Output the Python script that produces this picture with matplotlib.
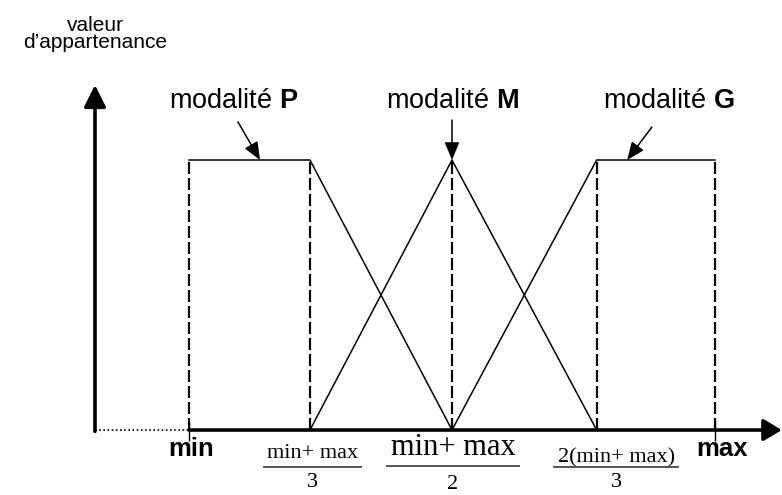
# coding: utf-8
import matplotlib.pyplot as plt

# breakpoints on the universe of discourse (min = 0, max = 1)
breakpoints = [0.0, 0.23, 0.5, 0.775, 1.0]

# membership functions
p_x = [0.0, 0.23, 0.5]
p_y = [1.0, 1.0, 0.0]
m_x = [0.23, 0.5, 0.775]
m_y = [0.0, 1.0, 0.0]
g_x = [0.5, 0.775, 1.0]
g_y = [0.0, 1.0, 1.0]

modalites = ["P", "M", "G"]
modalite_x = [0.084, 0.5, 0.9125]
arrow_from = [(0.093, 1.141), (0.5, 1.148), (0.880, 1.122)]
arrow_to = [(0.135, 1.0), (0.5, 1.0), (0.833, 1.0)]

frac_num = ["min+ max", "min+ max", "2(min+ max)"]
frac_den = ["3", "2", "3"]
frac_x = [0.235, 0.502, 0.812]

plt.rcParams["font.family"] = ["Liberation Sans", "DejaVu Sans"]
plt.rcParams["mathtext.fontset"] = "custom"
plt.rcParams["mathtext.rm"] = "Liberation Sans"
plt.rcParams["mathtext.bf"] = "Liberation Sans:bold"

fig = plt.figure(figsize=(7.82, 4.95), dpi=100)
ax = fig.add_axes([0, 0, 1, 1])
ax.set_xlim(-0.3593, 1.1274)
ax.set_ylim(-0.2407, 1.5926)
ax.axis("off")

yaxis_x = -0.1787

# axes arrows
ax.annotate("", xy=(yaxis_x, 1.278), xytext=(yaxis_x, -0.005),
            arrowprops=dict(arrowstyle="-|>,head_length=0.6,head_width=0.3",
                            lw=2.6, color="black", mutation_scale=22,
                            shrinkA=0, shrinkB=0))
ax.annotate("", xy=(1.127, 0), xytext=(0, 0),
            arrowprops=dict(arrowstyle="-|>,head_length=0.5,head_width=0.3",
                            lw=2.6, color="black", mutation_scale=22,
                            shrinkA=0, shrinkB=0))
ax.plot([yaxis_x, 0], [0, 0], color="black", lw=1.2, ls=(0, (1, 1.5)))

# dashed verticals
for b in breakpoints:
    ax.plot([b, b], [0, 1], color="black", lw=1.6, ls=(0, (5.4, 1.8)))
ax.vlines([breakpoints[0], breakpoints[-1]], -0.04, 0.03, color="black", lw=1.0)

# membership functions
for xs, ys in [(p_x, p_y), (m_x, m_y), (g_x, g_y)]:
    ax.plot(xs, ys, color="black", lw=1.1)

# labels of the modalities
for name, x, a0, a1 in zip(modalites, modalite_x, arrow_from, arrow_to):
    ax.text(x, 1.193, "modalité $\\mathbf{" + name + "}$", ha="center", va="baseline",
            fontsize=19.5)
    ax.annotate("", xy=a1, xytext=a0,
                arrowprops=dict(arrowstyle="-|>,head_length=0.6,head_width=0.25",
                                lw=1.1, color="black", mutation_scale=18,
                                shrinkA=0, shrinkB=0))

ax.text(yaxis_x, 1.478, "valeur", ha="center", va="baseline", fontsize=15)
ax.text(yaxis_x, 1.415, "d\u2019appartenance", ha="center", va="baseline", fontsize=15)

ax.text(0.004, -0.026, "min", ha="center", va="top", fontsize=18.5, fontweight="bold")
ax.text(1.013, -0.026, "max", ha="center", va="top", fontsize=18.5, fontweight="bold")

# fraction labels under the axis
num_y = [-0.104, -0.0926, -0.1185]
num_size = [16, 22, 16]
bar_y = [-0.137, -0.133, -0.137]
bar_half = [0.092, 0.126, 0.118]
den_y = [-0.212, -0.217, -0.212]
for i in range(3):
    x = frac_x[i]
    ax.text(x, num_y[i], frac_num[i], ha="center", va="baseline",
            fontsize=num_size[i], family="Liberation Serif")
    ax.plot([x - bar_half[i], x + bar_half[i]], [bar_y[i], bar_y[i]],
            color="#555555", lw=1.4)
    ax.text(x, den_y[i], frac_den[i], ha="center", va="baseline",
            fontsize=16, family="Liberation Serif")

fig.savefig("out.png", dpi=100)
